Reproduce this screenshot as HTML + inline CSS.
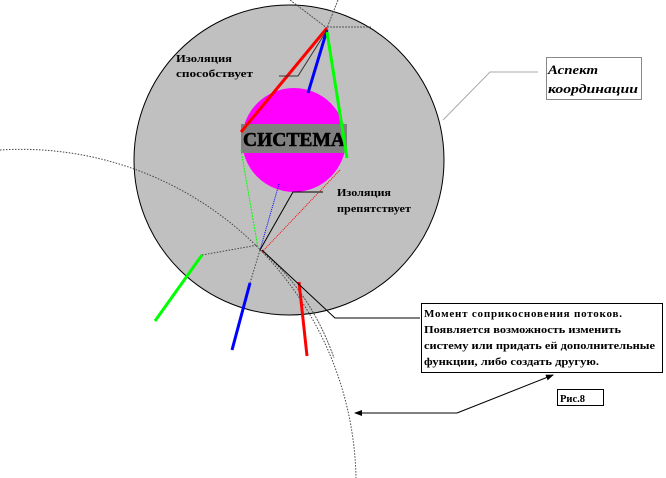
<!DOCTYPE html>
<html><head><meta charset="utf-8"><style>
body{margin:0;background:#fff}
svg{display:block}
text{font-family:"Liberation Serif","DejaVu Serif",serif;font-weight:bold}
</style></head><body>
<svg width="666" height="478" viewBox="0 0 666 478" xmlns="http://www.w3.org/2000/svg">
<defs>
<marker id="ar" markerWidth="8" markerHeight="6" refX="7" refY="3" orient="auto" markerUnits="userSpaceOnUse"><path d="M0,0 L8,3 L0,6 z" fill="#000"/></marker>
</defs>
<circle cx="289" cy="160" r="155" fill="#c0c0c0" stroke="#000" stroke-width="1"/>
<path d="M0,150 A335,335 0 0 1 356,478" fill="none" stroke="#444" stroke-width="1" stroke-dasharray="1.5,1.5"/>
<path d="M260,250 Q310,290 334,358" fill="none" stroke="#555" stroke-width="1" stroke-dasharray="2,1"/>
<circle cx="294" cy="140" r="52" fill="#ff00ff"/>
<rect x="241" y="124" width="106" height="29" fill="#808080"/>
<text x="243" y="146" font-size="20" textLength="102" lengthAdjust="spacingAndGlyphs" fill="#000" stroke="#000" stroke-width="0.6">СИСТЕМА</text>
<line x1="290" y1="0" x2="327" y2="28" stroke="#555" stroke-dasharray="2,1"/>
<line x1="338" y1="0" x2="327" y2="28" stroke="#555" stroke-dasharray="2,1"/>
<line x1="327" y1="27" x2="372" y2="27" stroke="#555" stroke-dasharray="2,1"/>
<line x1="327" y1="28" x2="241" y2="132" stroke="#f00" stroke-width="3"/>
<line x1="327" y1="30" x2="308" y2="93" stroke="#00f" stroke-width="3"/>
<line x1="327" y1="32" x2="347" y2="158" stroke="#0f0" stroke-width="3"/>
<polyline points="279,76 298,76 327,30" fill="none" stroke="#333" stroke-width="1"/>
<text x="176" y="62" font-size="11" textLength="56" lengthAdjust="spacingAndGlyphs">Изоляция</text>
<text x="176" y="77" font-size="11" textLength="77" lengthAdjust="spacingAndGlyphs">способствует</text>
<line x1="241" y1="150" x2="258" y2="248" stroke="#0f0" stroke-width="1" stroke-dasharray="2,1"/>
<line x1="279" y1="184" x2="260" y2="250" stroke="#00f" stroke-width="1" stroke-dasharray="1,1"/>
<line x1="340" y1="170" x2="262" y2="252" stroke="#f00" stroke-width="1" stroke-dasharray="1,1"/>
<polyline points="323,192 293,192 260,250" fill="none" stroke="#000" stroke-width="1"/>
<text x="337" y="196" font-size="11" textLength="54" lengthAdjust="spacingAndGlyphs">Изоляция</text>
<text x="337" y="212" font-size="11" textLength="74" lengthAdjust="spacingAndGlyphs">препятствует</text>
<line x1="202" y1="255" x2="258" y2="245" stroke="#444" stroke-dasharray="1.5,1.5"/>
<line x1="202" y1="255" x2="155" y2="321" stroke="#0f0" stroke-width="3"/>
<line x1="250" y1="283" x2="260" y2="250" stroke="#444" stroke-dasharray="1.5,1.5"/>
<line x1="250" y1="283" x2="232" y2="350" stroke="#00f" stroke-width="3"/>
<line x1="299" y1="282" x2="307" y2="356" stroke="#f00" stroke-width="3"/>
<polyline points="262,250 335,318 420,318" fill="none" stroke="#000" stroke-width="1"/>
<polyline points="443,120 490,72 538,72" fill="none" stroke="#aaa" stroke-width="1"/>
<rect x="546.5" y="57.5" width="95" height="42" fill="#fff" stroke="#888"/>
<text x="548" y="74" font-size="13" font-style="italic" textLength="50" lengthAdjust="spacingAndGlyphs">Аспект</text>
<text x="548" y="93" font-size="13" font-style="italic" textLength="90" lengthAdjust="spacingAndGlyphs">координации</text>
<rect x="421.5" y="303.5" width="241" height="69" fill="#fff" stroke="#000"/>
<text font-size="11" lengthAdjust="spacingAndGlyphs"><tspan x="424" y="317" textLength="198">Момент соприкосновения потоков.</tspan></text>
<text font-size="11"><tspan x="424" y="333" textLength="197" lengthAdjust="spacingAndGlyphs">Появляется  возможность изменить</tspan></text>
<text font-size="11"><tspan x="424" y="349" textLength="231" lengthAdjust="spacingAndGlyphs">систему или придать  ей дополнительные</tspan></text>
<text font-size="11"><tspan x="424" y="365" textLength="175" lengthAdjust="spacingAndGlyphs">функции, либо создать другую.</tspan></text>
<line x1="457" y1="413" x2="355" y2="413" stroke="#000" marker-end="url(#ar)"/>
<line x1="457" y1="413" x2="553" y2="375" stroke="#000" marker-end="url(#ar)"/>
<rect x="557.5" y="389.5" width="46" height="16" fill="#fff" stroke="#000"/>
<text x="560" y="402" font-size="10" textLength="25" lengthAdjust="spacingAndGlyphs">Рис.8</text>
</svg>
</body></html>
